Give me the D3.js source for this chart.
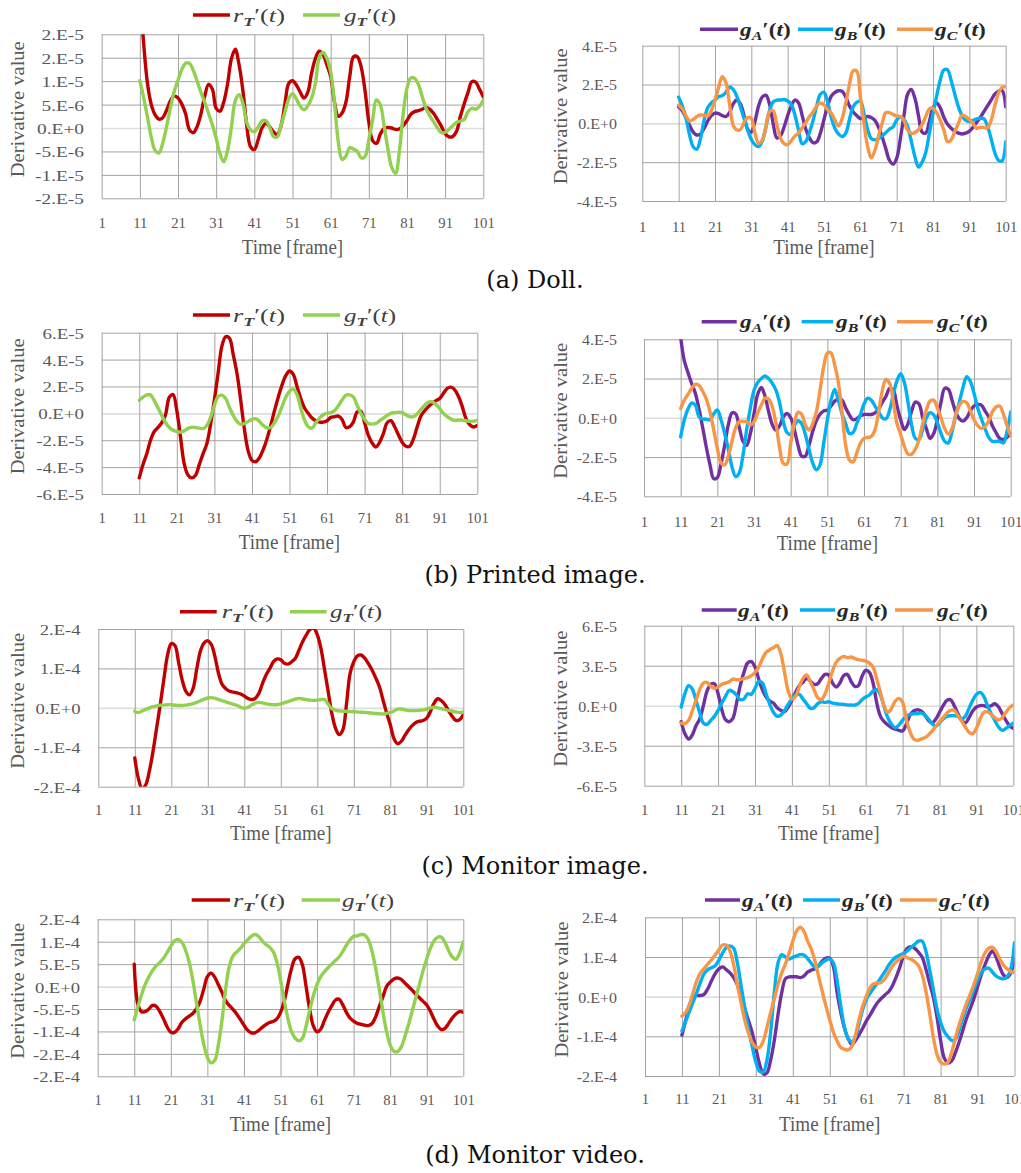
<!DOCTYPE html>
<html>
<head>
<meta charset="utf-8">
<script src="https://cdn.jsdelivr.net/npm/d3@7"></script>
<style>
  html, body { margin: 0; padding: 0; background: #ffffff; }
  svg { display: block; }
</style>
</head>
<body>
<svg id="fig" width="1021" height="1173"></svg>
<script>
// Frame index of every sample (category axis)
const FRAMES = [
  11, 12, 13, 14, 15, 16, 17, 18, 19, 20,
  21, 22, 23, 24, 25, 26, 27, 28, 29, 30,
  31, 32, 33, 34, 35, 36, 37, 38, 39, 40,
  41, 42, 43, 44, 45, 46, 47, 48, 49, 50,
  51, 52, 53, 54, 55, 56, 57, 58, 59, 60,
  61, 62, 63, 64, 65, 66, 67, 68, 69, 70,
  71, 72, 73, 74, 75, 76, 77, 78, 79, 80,
  81, 82, 83, 84, 85, 86, 87, 88, 89, 90,
  91, 92, 93, 94, 95, 96, 97, 98, 99, 100,
  101
];
const FRAME_TICKS = [1, 11, 21, 31, 41, 51, 61, 71, 81, 91, 101];

// All derivative values below are in units of 1e-6.
const UNIT = 1e-6;

// (a) Doll
const dollRT = [
  30, 18, 9.5, 5, 2.8, 1.9, 2.2, 3.8, 5.8, 6.8,
  6.4, 5.1, 3, -0.4, -1.0, 0.3, 3, 6.8, 9.3, 8.3,
  4.2, 3.6, 5.6, 9.5, 14.8, 16.8, 13.5, 8, 0.6, -4,
  -4.6, -2.5, 0, 1, 0.3, -0.8, -1.4, 0.5, 5, 9.5,
  10.1, 9.2, 7.7, 6.4, 7.6, 11.7, 14.8, 16.4, 15.7, 13.5,
  11, 5.5, 2.5, 3.2, 5.5, 11, 15.2, 15.2, 13, 8,
  1.3, -2.7, -3.3, -1.3, -0.1, 0.1, 0, -0.3, -0.2, 0.5,
  1.6, 2.9, 3.5, 3.7, 4, 4.4, 4.0, 3.1, 1.8, 0.4,
  -1.2, -1.9, -1.8, -0.7, 2.5, 5.2, 7.6, 9.9, 9.8, 8.3,
  6.7
];
const dollGT = [
  10.1, 6.5, 2.3, -2, -4.8, -5.3, -3.2, 0.3, 4.3, 7.8,
  10.2, 12.5, 13.8, 13.8, 12.3, 10, 7.6, 5.5, 3.1, 0.7,
  -2.2, -5.5, -7.2, -4.7, 0.2, 5.8, 7.1, 5.3, 1.2, -0.4,
  -0.8, 0.2, 1.5, 1.6, 0.2, -1.8, -1.9, 0.6, 3.3, 6.2,
  7.3, 6.2, 4.7, 3.9, 4.7, 6.4, 9.5, 15, 16.1, 14.9,
  12, 5.5, -3, -6.7, -6, -4.2, -4.5, -5, -6.4, -6.1,
  -2.5, 1.7, 6, 5, 0.5, -4.5, -8.4, -9.7, -5, 3,
  8.5, 10.7, 10.6, 9.3, 6.7, 4.2, 2.6, 1.3, 0, -1.0,
  -0.9, -0.3, 0.5, 1.2, 1.5, 1.8, 3.5, 4.2, 4.0, 4.6,
  6.0
];
const dollGA = [
  8.5, 6.5, 3, -1, -4.5, -6, -5.5, -2.6, 1.2, 4,
  5.3, 5, 4, 3.5, 5.5, 10, 12, 10, 4, -3,
  -4.5, 1, 9, 13.5, 14.5, 10, 0, -7.5, -6.5, -2,
  4, 9, 12, 10.5, 4, -3, -7.5, -10, -9.5, -5,
  2, 9, 14, 16, 16.8, 16.5, 13.5, 9, 6, 4,
  2.5, 3, 3.5, 3, 1.5, -2, -7, -13, -19, -21,
  -18, -8, 4, 15, 17.5, 13, 4, -4.5, -5, 1,
  8, 10.5, 8, 3, -0.5, -2.5, -4, -5, -5.5, -5,
  -4, -2, 0.5, 3, 6, 9, 12, 15, 16.5, 17,
  8.5
];
const dollGB = [
  13.5, 9, 3, -6, -12, -13.3, -8, 1.5, 8, 10.5,
  12, 13.8, 14.3, 16, 18.7, 17.5, 14, 8.5, 2.5, -3.5,
  -8.3, -11, -12, -9.3, -2, 6.5, 11, 12, 12, 12.3,
  11.5, 9.8, 4.3, -3.5, -10.5, -9.3, -4.5, 1.5, 9, 15,
  16, 11, 3, -2.5, -5.5, -6.8, -5, 2, 8.5, 10.8,
  11.5, 5, -3, -7.8, -8.5, -7.8, -6.5, -4.8, -3, -1.8,
  1.7, 3.3, 2, -1.5, -9, -17, -22.5, -20, -15, -5,
  5, 14, 22.5, 27.5, 27.5, 22, 15, 8.5, 4, 1.5,
  1, 1.5, 2.3, 2.6, 2.3, -1.5, -8, -15, -19, -19.3,
  -9.4
];
const dollGC = [
  9.4, 7.5, 4, 1.2, 2, 3.5, 4.3, 4.2, 3.8, 6.5,
  12, 18.5, 24, 21, 10, -0.9, -3.4, -3.2, 0.5, 3,
  2.5, -5, -10.3, -8.5, -2, 6, 6.5, -0.5, -7.5, -10.5,
  -11, -9, -6.5, -5, -2.3, 0.5, 3.5, 5.8, 9, 10.5,
  9.5, 7, 5.3, 1.7, -1.3, 2.5, 10.5, 20, 27, 27,
  14, 0, -12, -17.8, -14, -6.5, 0, 5.5, 5.5, 4.6,
  3.8, 3.5, 1.5, -3.5, -5.1, -4.8, -3.3, -0.5, 3.5, 7.5,
  7.8, 5.5, 1.5, -3.5, -9.5, -8.5, -4, 0, 4.3, 3.5,
  2, 0, -2.6, -2, -2.2, -2.3, 1.5, 9, 15.5, 18.5,
  18.8
];

// (b) Printed image
const printRT = [
  -48, -38, -30, -20, -13.5, -10.5, -7, -1, 12, 14,
  2, -18, -38, -46, -48, -46, -38, -30, -22.5, -8,
  10, 30, 50, 57, 56, 44, 30, 10, -12, -28,
  -35, -36, -33, -27, -19, -9, 2, 12, 21, 28,
  31.5, 29, 20, 11, 4, 0, -3.5, -5.5, -6.5, -6.5,
  -5.5, -3, -2.5, -2, -4.5, -10.5, -10, -6.5, 1, 1.5,
  -7, -16.4, -22, -25, -21.5, -15, -7, -5.5, -10, -16,
  -21.5, -24.5, -24.5, -19, -10, -2, 2, 5, 7.5, 9.5,
  11, 15, 18.5, 19.5, 17.5, 12.5, 5, -4, -8.5, -10.2,
  -9
];
const printGT = [
  9.7, 12, 13.8, 13.6, 9.5, 4, -1.5, -7, -10.5, -12.5,
  -13.5, -14, -13, -11.2, -10.3, -10.5, -11, -11.3, -9, -3,
  6, 12.5, 13.5, 11, 4.5, -1.5, -6, -8.2, -7.5, -6,
  -4.5, -4, -6, -9, -10.8, -10.5, -7, -2, 5, 12,
  16.5, 18, 14, 4, -5, -10, -11, -7, -3.5, -1,
  0, 0.5, 2, 5.5, 10, 13.5, 13.8, 12.2, 6, 0,
  -4.5, -7.5, -8, -7.5, -5.5, -3.5, -1.5, 0, 0.5, 0.8,
  0.5, -1, -2.5, -2.5, -0.5, 3, 6, 8.3, 8.5, 6.5,
  3.5, 0, -2.5, -4.3, -5.2, -5, -5, -5.5, -6, -5.8,
  -5.2
];
const printGA = [
  41, 29, 23, 17.5, 12.5, 4.5, -5, -15, -24, -31,
  -30.5, -23.5, -14, -3.5, 2.5, 2, -5, -12, -14, -8,
  2, 12, 15.5, 11, 3, -3.5, -6.3, -4, 0.5, 2.2,
  0, -6, -14, -19.5, -19.5, -14, -7, -1.5, 1.8, 3.5,
  3.9, 6, 8.5, 9.5, 9, 5, 1.5, -1, -0.5, 1,
  1.7, 1.7, 1.7, 2.5, 4.5, 8, 11, 15, 14, 6,
  -1, -6, -3, 3.5, 8, 7, 0, -5.5, -10.5, -8,
  -1, 8, 15, 14.5, 9, 3, -0.5, -1.7, 0, 3.5,
  6, 6.8, 6.5, 3.5, 0.5, -4, -7.5, -10.5, -11, -10,
  -8
];
const printGB = [
  -9.7, -1, 4.5, 7.5, 6.5, 0.5, -0.7, -0.7, -1, 2,
  4, -1, -8, -16, -25, -30, -28, -19, -6, 5,
  14, 18, 20, 21.3, 20, 17.5, 14, 7.5, -2, -7.5,
  -8.5, -4, -1.5, -3, -8.5, -16, -23, -26.5, -24, -13,
  -1, 9, 14.5, 9, 2, -3, -8, -7.5, -3, 1.5,
  7, 10, 9, 6, 3, 0, -0.5, 4, 12, 19,
  22.5, 18, 8, -4, -10.5, -11, -6, 0, 2.6, 1.5,
  -2.5, -8, -12, -12.8, -7, 1, 8, 15.5, 21, 18.5,
  12.5, 5, -0.5, -5.5, -10, -12, -12, -12, -12.8, -7,
  3
];
const printGC = [
  4.8, 9, 12, 15, 17, 16.5, 13.5, 9.5, 3, -6,
  -15.7, -23, -24, -19.5, -12, -5, -2, -1.7, -2, -3.7,
  -2, 2.5, 6.5, 10, 9.5, 5.5, -3, -15.5, -23.3, -23.5,
  -13, -2.5, 2.8, 1.8, -3.7, -6.2, -3, 3, 14, 26,
  33, 33, 27, 18, 3, -14, -21.5, -22.5, -18, -13,
  -10.5, -10, -9.5, -6, 3, 14, 19.5, 17.5, 8, -3,
  -8.5, -14.5, -18.5, -18.5, -16, -11, -3, 4, 8.5, 9,
  5, 0, -5.5, -8.3, -5.5, 1.5, 6.5, 8.3, 7.7, 3.5,
  -1, -4, -5.5, -4.5, -1.5, 3, 5.5, 6, 2, -4,
  -9
];

// (c) Monitor image
const monRT = [
  -127, -180, -205, -195, -160, -110, -50, 10, 75, 135,
  163, 158, 115, 70, 42, 33, 50, 100, 145, 165,
  170, 160, 128, 85, 58, 48, 42, 40, 38, 35,
  30, 24, 21, 24, 37, 62, 84, 100, 117, 124,
  122, 113, 111, 117, 126, 147, 168, 185, 199, 202,
  185, 151, 96, 40, -15, -52, -68, -56, 10, 88,
  117, 132, 134, 126, 112, 96, 76, 54, 20, -13,
  -43, -78, -91, -85, -70, -56, -45, -37, -34, -32,
  -26, -9, 12, 23, 18, 8, -8, -22, -32, -30,
  -18
];
const monGT = [
  -9, -12, -8, -4, 0, 3, 5, 6.5, 7, 8,
  8, 6.5, 6, 6, 7, 8.5, 11, 14, 18, 22,
  25, 26, 24, 21, 18, 15, 12, 9, 6, 2,
  -1, 1.5, 7, 12, 14, 12.5, 10, 8.5, 8, 8,
  10, 13, 16, 19, 22, 24, 22.5, 21, 19.5, 19,
  19.5, 21, 21, 9, -2, -6, -8, -8.5, -9, -9.5,
  -10, -10.5, -11, -11.5, -12.5, -13.5, -14.5, -15, -15.5, -14,
  -11.5, -8, -3, -3, -5, -7, -7, -7, -6, -5,
  -3, 0, 1.5, 0, -2, -4.5, -6.5, -8.5, -10.5, -12,
  -10
];
const monGA = [
  -12, -21, -25, -22, -15, -10, 0, 11, 16, 16.5,
  9, -3, -10.5, -12, -9.5, 2, 15, 25, 32, 33,
  29, 20, 12, 6.5, 3.5, 2, -1.5, -3.5, -4.5, -1,
  4, 10, 15, 17.5, 20.5, 18.5, 16, 16.5, 20.5, 23.5,
  23, 17, 14, 17, 22.5, 23.5, 18.5, 14.5, 15, 22,
  26.5, 25, 17, 2, -8, -12, -14.5, -16.5, -17.5, -18.5,
  -19, -14, -7, -4, -3, -4, -7, -11, -13, -10,
  -5, 0, 4, 4.5, 0, -6, -11, -13, -9, -4,
  -1, 0, 0, -1, 0, 1.5, -1, -6, -11, -15,
  -17
];
const monGB = [
  -1, 9, 15, 12.5, 4, -5, -13, -14, -11, -8,
  -3.5, 2, 7, 11.5, 10.5, 8, 4.5, 5, 9, 8.5,
  13, 18, 17, 9, 1, -5, -8, -7, -3.5, 1,
  5, 8, 8.5, 5, 1.5, -2, -1.5, 1.5, 3, 2.5,
  3, 2, 1.5, 1.2, 1, 0.5, 0.5, 0.5, 1.5, 4.5,
  6.5, 8, 11, 12, 8, -1, -9, -14, -16.5, -14.5,
  -11, -8, -6.5, -6, -6, -5.5, -7, -10, -13.5, -15.5,
  -13, -10, -8, -7.5, -7.5, -8, -10, -8, -2, 4,
  8.5, 10, 7, 0, -6, -11, -16, -18.5, -17, -15,
  -13
];
const monGC = [
  -13, -13.5, -11, -4, 4, 12, 17, 17.5, 14.5, 13,
  14, 16, 17, 18, 20, 19.5, 19.5, 20.5, 21, 22.5,
  25, 29, 35, 40, 42, 43.5, 45, 39, 25, 11,
  5, 7, 14, 20.5, 23, 18, 12, 6, 4.5, 9,
  17, 26, 32.5, 35.5, 37, 36, 36.5, 35.5, 34.5, 34,
  33.5, 32, 29, 20, 10, 0, -5, -2, 3.5, 5.5,
  2.5, -10, -19.5, -25, -26, -25, -24, -22, -19, -15.5,
  -12, -9, -5.5, -3.5, -3.5, -7.5, -11.5, -16, -20, -21,
  -17, -10, -5, -4.7, -6.5, -9, -10.5, -9, -5, -1.5,
  0.5
];

// (d) Monitor video
const vidRT = [
  50, -40, -56, -56, -50, -42, -44, -56, -72, -90,
  -102, -102, -94, -80, -72, -66, -60, -50, -33, -6,
  22, 30, 21, 4, -13, -32, -42, -51, -61, -73,
  -86, -97, -103, -103, -98, -91, -85, -80, -78, -72,
  -58, -33, 4, 40, 62, 65, 48, 0, -52, -88,
  -101, -95, -76, -58, -43, -30, -28, -40, -57, -70,
  -77, -82, -84, -86, -87, -83, -68, -45, -23, 0,
  10, 17, 19, 16, 8, 0, -8, -17, -25, -33,
  -41, -55, -73, -88, -96, -93, -82, -70, -61, -56,
  -57
];
const vidGT = [
  -74, -45, -18, 5, 22, 36, 46, 54, 63, 76,
  90, 102, 105, 99, 82, 55, 15, -35, -85, -128,
  -158, -170, -165, -130, -75, -5, 45, 68, 77, 85,
  95, 104, 112, 116, 112, 102, 94, 88, 78, 55,
  15, -30, -70, -100, -115, -121, -115, -88, -52, -20,
  5, 22, 33, 42, 50, 58, 66, 78, 92, 104,
  112, 113, 116, 115, 105, 80, 42, -5, -55, -100,
  -130, -144, -145, -135, -112, -85, -55, -25, 5, 35,
  62, 85, 102, 110, 110, 98, 80, 66, 61, 75,
  100
];
const vidGA = [
  -97, -60, -25, 0, 3, 3, 6, 20, 40, 58,
  70, 75, 68, 60, 48, 30, 0, -30, -60, -90,
  -130, -170, -195, -192, -160, -110, -45, 10, 45, 50,
  50, 50, 48, 52, 62, 67, 70, 78, 90, 97,
  97, 75, 10, -40, -80, -106, -120, -110, -95, -78,
  -60, -45, -28, -14, -4, 5, 13, 28, 50, 75,
  105, 122, 126, 122, 112, 100, 70, 35, 0, -50,
  -110, -155, -167, -162, -141, -115, -85, -55, -30, -5,
  25, 55, 80, 102, 115, 100, 75, 55, 48, 60,
  95
];
const vidGB = [
  -87, -62, -38, -14, 10, 36, 58, 68, 73, 78,
  92, 110, 124, 128, 122, 85, 28, -28, -82, -125,
  -165, -188, -190, -160, -90, 10, 85, 106, 100, 95,
  99, 103, 106, 105, 96, 84, 74, 78, 86, 92,
  95, 85, 40, -25, -78, -106, -114, -100, -65, -30,
  -5, 10, 23, 36, 50, 64, 80, 92, 100, 105,
  109, 115, 124, 132, 140, 140, 115, 70, 20, -30,
  -65, -88, -101, -110, -108, -85, -55, -28, -5, 18,
  42, 60, 70, 72, 62, 52, 47, 45, 50, 70,
  136
];
const vidGC = [
  -49, -40, -20, 10, 40, 60, 71, 82, 93, 105,
  118, 130, 130, 115, 80, 30, -15, -60, -92, -115,
  -127, -128, -112, -78, -40, -5, 30, 60, 82, 110,
  140, 165, 175, 165, 140, 120, 90, 50, 12, -25,
  -58, -90, -112, -128, -133, -134, -125, -95, -55, -22,
  3, 24, 33, 34, 36, 46, 62, 78, 88, 96,
  102, 98, 94, 88, 78, 55, 15, -40, -100, -145,
  -165, -170, -165, -140, -105, -72, -43, -17, 6, 30,
  58, 88, 110, 122, 124, 114, 95, 80, 70, 63,
  61
];

// Y-axis tick values (units of 1e-6) and their printed labels
const dollTTicks = [-15, -10, -5, 0, 5, 10, 15, 20];
const dollTLabels = ["-2.E-5", "-1.E-5", "-5.E-6", "0.E+0", "5.E-6", "1.E-5", "2.E-5", "2.E-5"];
const ticks40 = [-40, -20, 0, 20, 40];
const labels40 = ["-4.E-5", "-2.E-5", "0.E+0", "2.E-5", "4.E-5"];
const ticks60by20 = [-60, -40, -20, 0, 20, 40, 60];
const labels60by20 = ["-6.E-5", "-4.E-5", "-2.E-5", "0.E+0", "2.E-5", "4.E-5", "6.E-5"];
const ticks200 = [-200, -100, 0, 100, 200];
const labels200 = ["-2.E-4", "-1.E-4", "0.E+0", "1.E-4", "2.E-4"];
const ticks60by30 = [-60, -30, 0, 30, 60];
const labels60by30 = ["-6.E-5", "-3.E-5", "0.E+0", "3.E-5", "6.E-5"];
const vidTTicks = [-200, -150, -100, -50, 0, 50, 100, 150];
const vidTLabels = ["-2.E-4", "-2.E-4", "-1.E-4", "-5.E-5", "0.E+0", "5.E-5", "1.E-4", "2.E-4"];

const captions = ["(a) Doll.", "(b) Printed image.", "(c) Monitor image.", "(d) Monitor video."];

// Colours
const RED = "#C00000", GREEN = "#92D050", PURPLE = "#7030A0", BLUE = "#00B0F0", ORANGE = "#F79646";
const GRID = "#a3a3a3", ZERO = "#dedede", TEXT = "#595959";
const SERIF = "'Liberation Serif', 'Times New Roman', serif";

// Panel layout: plot box [x0, x1, y0, y1]; value labels end at labelRight and are
// stretched by labelSx; legend slots are [swatchStart, swatchEnd, textStart]
const panels = [
  { box: [101.7, 483.3, 34.3, 198.3], ticks: dollTTicks, labels: dollTLabels,
    series: [["r", "T", dollRT, RED], ["g", "T", dollGT, GREEN]],
    legendY: 15, slots: [[193, 230, 233], [303, 340, 344]], bold: false,
    labelRight: 84, labelSx: 1.25,
    xLabelY: 222.7, xTitleY: 247, yTitleX: 17.5 },
  { box: [642.3, 1005.7, 45.7, 201], ticks: ticks40, labels: labels40,
    series: [["g", "A", dollGA, PURPLE], ["g", "B", dollGB, BLUE], ["g", "C", dollGC, ORANGE]],
    legendY: 29.3, slots: [[700, 738, 740], [798, 833, 835], [897, 933, 935]], bold: true,
    labelRight: 617, labelSx: 1.03,
    xLabelY: 226.7, xTitleY: 246.7, yTitleX: 560 },
  { box: [101.7, 477.3, 332.7, 494], ticks: ticks60by20, labels: labels60by20,
    series: [["r", "T", printRT, RED], ["g", "T", printGT, GREEN]],
    legendY: 315, slots: [[193, 230, 233], [303, 340, 344]], bold: false,
    labelRight: 84, labelSx: 1.22,
    xLabelY: 517.7, xTitleY: 541.7, yTitleX: 17.5 },
  { box: [644, 1010.7, 339.3, 496.3], ticks: ticks40, labels: labels40,
    series: [["g", "A", printGA, PURPLE], ["g", "B", printGB, BLUE], ["g", "C", printGC, ORANGE]],
    legendY: 321.7, slots: [[701.7, 736.7, 740], [801.7, 833, 836], [897, 933, 937]], bold: true,
    labelRight: 617, labelSx: 1.03,
    xLabelY: 521.7, xTitleY: 543, yTitleX: 560 },
  { box: [98.3, 463.3, 629, 786.7], ticks: ticks200, labels: labels200,
    series: [["r", "T", monRT, RED], ["g", "T", monGT, GREEN]],
    legendY: 611.7, slots: [[180, 216.7, 221.7], [290, 326.7, 330]], bold: false,
    labelRight: 80.5, labelSx: 1.2,
    xLabelY: 810, xTitleY: 833.3, yTitleX: 17.5 },
  { box: [644.3, 1013.3, 625.7, 785.7], ticks: ticks60by30, labels: labels60by30,
    series: [["g", "A", monGA, PURPLE], ["g", "B", monGB, BLUE], ["g", "C", monGC, ORANGE]],
    legendY: 610, slots: [[701.7, 736.7, 738], [800, 835, 837], [895, 933, 937]], bold: true,
    labelRight: 617, labelSx: 1.03,
    xLabelY: 810, xTitleY: 833.3, yTitleX: 560 },
  { box: [97.7, 463.3, 919.3, 1076.3], ticks: vidTTicks, labels: vidTLabels,
    series: [["r", "T", vidRT, RED], ["g", "T", vidGT, GREEN]],
    legendY: 900, slots: [[191.7, 230, 233], [301.7, 340, 342]], bold: false,
    labelRight: 80, labelSx: 1.2,
    xLabelY: 1100, xTitleY: 1124, yTitleX: 17.5 },
  { box: [645, 1014.5, 917.3, 1076], ticks: ticks200, labels: labels200,
    series: [["g", "A", vidGA, PURPLE], ["g", "B", vidGB, BLUE], ["g", "C", vidGC, ORANGE]],
    legendY: 900, slots: [[705, 740, 742], [803, 840, 842], [900, 937, 939]], bold: true,
    labelRight: 617, labelSx: 1.03,
    xLabelY: 1098.3, xTitleY: 1124, yTitleX: 561.7 }
];
const captionBaselines = [288, 583, 874, 1163];
const CAPTION_X = 535;

const svg = d3.select("#fig");
const defs = svg.append("defs");

panels.forEach((p, idx) => {
  const [x0, x1, y0, y1] = p.box;
  const g = svg.append("g");
  const x = d3.scaleLinear().domain([1, 101]).range([x0, x1]);
  const y = d3.scaleLinear().domain([p.ticks[0], p.ticks[p.ticks.length - 1]]).range([y1, y0]);

  // horizontal gridlines + value labels
  const yAxis = g.append("g").attr("transform", `translate(${x0},0)`)
    .call(d3.axisLeft(y).tickValues(p.ticks)
      .tickFormat((d, i) => p.labels[i])
      .tickSize(-(x1 - x0)).tickPadding(8));
  yAxis.select(".domain").remove();
  yAxis.selectAll(".tick line")
    .attr("stroke", d => d === 0 ? ZERO : GRID)
    .attr("stroke-width", d => d === 0 ? 1.6 : 1);
  yAxis.selectAll(".tick text")
    .attr("x", 0).attr("dy", "0.35em")
    .attr("fill", TEXT)
    .style("font-family", SERIF).style("font-size", "15.5px")
    .attr("transform", `translate(${p.labelRight - x0},0) scale(${p.labelSx},1)`);

  // vertical gridlines + frame labels
  const xAxis = g.append("g").attr("transform", `translate(0,${y1})`)
    .call(d3.axisBottom(x).tickValues(FRAME_TICKS)
      .tickSize(-(y1 - y0)).tickFormat(d3.format("d")));
  xAxis.select(".domain").remove();
  xAxis.selectAll(".tick line").attr("stroke", GRID).attr("stroke-width", 1);
  xAxis.selectAll(".tick text")
    .attr("y", p.xLabelY - y1).attr("dy", "0.35em")
    .attr("fill", TEXT)
    .style("font-family", SERIF).style("font-size", "15.5px")
    .attr("transform", "scale(0.95,1)");

  // axis titles
  g.append("text")
    .attr("transform", `translate(${(x0 + x1) / 2},${p.xTitleY}) scale(0.93,1)`)
    .attr("text-anchor", "middle").attr("dy", "0.35em")
    .attr("fill", TEXT).style("font-family", SERIF).style("font-size", "20.5px")
    .text("Time [frame]");
  g.append("text")
    .attr("transform", `translate(${p.yTitleX},${(y0 + y1) / 2 - 7}) rotate(-90) scale(1,0.93)`)
    .attr("text-anchor", "middle").attr("dy", "0.35em")
    .attr("fill", TEXT).style("font-family", SERIF).style("font-size", "20.5px")
    .text("Derivative value");

  // data lines, clipped to the plot area
  const clipId = "clip" + idx;
  defs.append("clipPath").attr("id", clipId)
    .append("rect").attr("x", x0).attr("y", y0).attr("width", x1 - x0).attr("height", y1 - y0);
  const line = d3.line()
    .x(d => x(d.f)).y(d => y(d.v))
    .curve(d3.curveCatmullRom.alpha(0.5));
  const lines = g.append("g").attr("clip-path", `url(#${clipId})`);
  p.series.forEach(([letter, sub, values, color]) => {
    const pts = FRAMES.map((f, i) => ({ f, v: values[i] })).filter(d => d.v !== undefined);
    lines.append("path").datum(pts)
      .attr("d", line)
      .attr("fill", "none").attr("stroke", color)
      .attr("stroke-width", 3.4)
      .attr("stroke-linejoin", "round").attr("stroke-linecap", "round");
  });

  // legend
  p.series.forEach(([letter, sub, values, color], i) => {
    const [sx0, sx1, tx] = p.slots[i];
    g.append("line")
      .attr("x1", sx0).attr("x2", sx1).attr("y1", p.legendY).attr("y2", p.legendY)
      .attr("stroke", color).attr("stroke-width", 3.5);
    const t = g.append("text")
      .attr("fill", p.bold ? "#262626" : "#404040")
      .attr("dy", "0.35em")
      .style("font-family", SERIF).style("font-size", "19px")
      .style("font-weight", p.bold ? "bold" : "normal");
    t.append("tspan").style("font-style", "italic").text(letter);
    t.append("tspan").style("font-style", "italic").style("font-weight", "bold")
      .style("font-size", "13px").attr("dy", 4).text(sub);
    t.append("tspan").attr("dy", -4).text("\u2032(");
    t.append("tspan").style("font-style", "italic").text("t");
    t.append("tspan").text(")");
    const w = t.node().getBBox().width || 52;
    t.attr("transform", `translate(${tx},${p.legendY}) scale(${52 / w},1)`);
  });

  // panel caption under each row
  if (idx % 2 === 1) {
    svg.append("text")
      .attr("x", CAPTION_X).attr("y", captionBaselines[(idx - 1) / 2])
      .attr("text-anchor", "middle")
      .attr("fill", "#111")
      .style("font-family", "'DejaVu Serif', serif").style("font-size", "24px")
      .text(captions[(idx - 1) / 2]);
  }
});
</script>
</body>
</html>
